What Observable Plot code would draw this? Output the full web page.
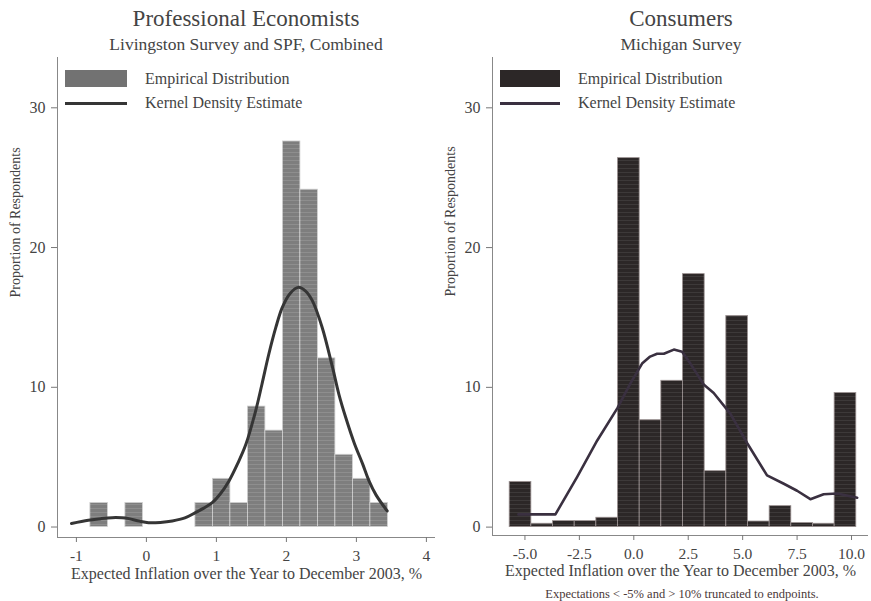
<!DOCTYPE html>
<html>
<head>
<meta charset="utf-8">
<script src="https://cdn.jsdelivr.net/npm/d3@7"></script>
<script src="https://cdn.jsdelivr.net/npm/@observablehq/plot@0.6"></script>
<style>
  html, body { margin: 0; padding: 0; background: #fff; }
  #wrap { position: relative; width: 871px; height: 601px; overflow: hidden; font-family: "Liberation Serif", "DejaVu Serif", serif; color: #444; }
  .abs { position: absolute; white-space: nowrap; line-height: 1; }
  .title { font-size: 23px; transform: translate(-50%, -50%); }
  .sub { font-size: 17.5px; transform: translate(-50%, -50%); }
  .leg { font-size: 16px; transform: translateY(-50%); }
  .foot { font-size: 12.5px; transform: translate(-50%, -50%); color: #4a3838; }
  svg { position: absolute; top: 0; }
</style>
</head>
<body>
<div id="wrap"></div>
<script>
// ---------- Data ----------
// Professional economists (Livingston + SPF): histogram bins (lower edge, upper edge) and proportion (%)
const proBinLo = [-0.8, -0.55, -0.3, -0.05, 0.2, 0.45, 0.7, 0.95, 1.2, 1.45, 1.7, 1.95, 2.2, 2.45, 2.7, 2.95, 3.2];
const proBinHi = [-0.55, -0.3, -0.05, 0.2, 0.45, 0.7, 0.95, 1.2, 1.45, 1.7, 1.95, 2.2, 2.45, 2.7, 2.95, 3.2, 3.45];
const proShare = [1.72, 0, 1.72, 0, 0, 0, 1.72, 3.45, 1.72, 8.62, 6.90, 27.59, 24.14, 12.07, 5.17, 3.45, 1.72];
// Kernel density estimate (x, y)
const proKdeX = [-1.07, -0.83, -0.65, -0.49, -0.35, -0.25, -0.1, 0.03, 0.2, 0.37, 0.55, 0.7, 0.82, 0.94, 1.06, 1.18, 1.3, 1.42, 1.56, 1.65, 1.75, 1.85, 1.94, 2.05, 2.17, 2.27, 2.37, 2.51, 2.66, 2.75, 2.85, 2.97, 3.09, 3.18, 3.28, 3.44];
const proKdeY = [0.25, 0.48, 0.6, 0.67, 0.66, 0.6, 0.42, 0.31, 0.33, 0.43, 0.65, 1.03, 1.35, 1.74, 2.4, 3.3, 4.5, 5.9, 8.3, 10.2, 12.4, 14.3, 15.7, 16.7, 17.15, 16.9, 16.2, 14.3, 11.4, 9.5, 7.8, 6.0, 4.5, 3.3, 2.3, 1.15];

// Consumers (Michigan survey)
const conBinLo = [-5.7, -4.705, -3.71, -2.715, -1.72, -0.725, 0.27, 1.265, 2.26, 3.255, 4.25, 5.245, 6.24, 7.235, 8.23, 9.225];
const conBinHi = [-4.705, -3.71, -2.715, -1.72, -0.725, 0.27, 1.265, 2.26, 3.255, 4.25, 5.245, 6.24, 7.235, 8.23, 9.225, 10.22];
const conShare = [3.23, 0.24, 0.43, 0.43, 0.67, 26.4, 7.65, 10.47, 18.1, 4.0, 15.1, 0.4, 1.5, 0.29, 0.24, 9.6];
const conKdeX = [-5.3, -3.6, -2.6, -1.68, -0.76, -0.15, 0.38, 0.75, 1.07, 1.38, 1.84, 2.22, 2.6, 3.21, 3.67, 4.44, 5.21, 6.12, 6.89, 7.5, 8.11, 8.72, 9.34, 10.26];
const conKdeY = [0.91, 0.91, 3.6, 6.2, 8.5, 10.3, 11.7, 12.2, 12.4, 12.4, 12.7, 12.55, 11.7, 10.2, 9.6, 8.1, 6.0, 3.7, 3.1, 2.6, 2.0, 2.35, 2.4, 2.1];

// Tick labels
const proTicks = [-1, 0, 1, 2, 3, 4];
const conTicks = [-5, -2.5, 0, 2.5, 5, 7.5, 10];
const yTicks = [0, 10, 20, 30];

const xLabel = "Expected Inflation over the Year to December 2003, %";
const yLabel = "Proportion of Respondents";

// ---------- Build ----------
const wrap = document.getElementById("wrap");

function panel(o) {
  const bins = o.lo.map((d, i) => ({x1: d, x2: o.hi[i], v: o.share[i]})).filter(d => d.v > 0);
  const kde = o.kx.map((d, i) => ({x: d, y: o.ky[i]}));
  const svg = Plot.plot({
    width: o.width,
    height: 601,
    marginLeft: o.ml,
    marginRight: o.mr,
    marginTop: 57,
    marginBottom: o.mb,
    style: {fontFamily: "Liberation Serif", fontSize: "15px", color: "#444", background: "transparent", overflow: "visible"},
    x: {domain: o.xdom},
    y: {domain: o.ydom},
    marks: [
      Plot.rect(bins, {x1: "x1", x2: "x2", y1: 0, y2: "v", fill: o.fill, stroke: o.edge, strokeWidth: 0.8}),
      Plot.rect(bins, {x1: "x1", x2: "x2", y1: 0, y2: "v", fill: `url(#tex${o.id})`, stroke: "none"}),
      Plot.line(kde, {x: "x", y: "y", stroke: o.lineColor, strokeWidth: o.lw, curve: o.curve}),
      Plot.ruleX([o.xdom[0]], {stroke: "#888", strokeWidth: 1}),
      Plot.ruleY([o.ydom[0]], {stroke: "#888", strokeWidth: 1}),
      Plot.axisX({ticks: o.ticks, tickFormat: o.fmt, tickSize: 5, tickPadding: 7, label: null, stroke: "#777", fontSize: 15.5}),
      Plot.axisY({ticks: yTicks, tickSize: 6, tickPadding: 6, label: null, stroke: "#777", fontSize: 16}),
      Plot.text([xLabel], {frameAnchor: "bottom", dy: o.xlabDy, text: d => d, fontSize: 16, fill: "#444"}),
      Plot.text([yLabel], {frameAnchor: "left", dx: o.ylabDx, rotate: -90, text: d => d, fontSize: 14, fill: "#444"})
    ]
  });
  // subtle scan-like texture pattern for the bars
  const defs = d3.select(svg).insert("defs", ":first-child");
  const p = defs.append("pattern").attr("id", "tex" + o.id).attr("patternUnits", "userSpaceOnUse")
    .attr("width", 9).attr("height", 4);
  p.append("line").attr("x1", 0).attr("x2", 9).attr("y1", 0.5).attr("y2", 0.5)
    .attr("stroke", "#ffffff").attr("stroke-opacity", o.texOp).attr("stroke-width", 0.7);
  wrap.appendChild(svg);
  svg.style.left = o.left + "px";
}

panel({
  id: "A", left: 0, width: 440, ml: 57, mr: 5, mb: 64, xlabDy: 41,
  xdom: [-1.27, 4.13], ydom: [-0.75, 33.6],
  lo: proBinLo, hi: proBinHi, share: proShare, kx: proKdeX, ky: proKdeY,
  ticks: proTicks, fmt: d => String(d), curve: "catmull-rom",
  fill: "#7e7e7e", edge: "#d0d0d0", lineColor: "#353535", lw: 3, ylabDx: -42, texOp: 0.18
});
panel({
  id: "B", left: 440, width: 431, ml: 52, mr: 3, mb: 66, xlabDy: 40,
  xdom: [-6.49, 10.78], ydom: [-0.6, 33.6],
  lo: conBinLo, hi: conBinHi, share: conShare, kx: conKdeX, ky: conKdeY,
  ticks: conTicks, fmt: d => d.toFixed(1), curve: "linear",
  fill: "#2c2727", edge: "#9a9090", lineColor: "#3a3040", lw: 2.6, ylabDx: -42, texOp: 0.12
});

// ---------- Titles, legends, note (HTML) ----------
function add(cls, txt, x, y, extra) {
  const d = document.createElement("div");
  d.className = "abs " + cls;
  d.textContent = txt;
  d.style.left = x + "px"; d.style.top = y + "px";
  if (extra) Object.assign(d.style, extra);
  wrap.appendChild(d);
  return d;
}
add("title", "Professional Economists", 246, 18);
add("sub", "Livingston Survey and SPF, Combined", 246, 45);
add("title", "Consumers", 681, 18);
add("sub", "Michigan Survey", 681, 45);

function legend(x0, textX, swatch, line) {
  const s = document.createElement("div");
  s.className = "abs";
  Object.assign(s.style, {left: x0 + "px", top: "70px", width: (textX - x0 - 18) + "px", height: "17px", background: swatch});
  wrap.appendChild(s);
  const l = document.createElement("div");
  l.className = "abs";
  Object.assign(l.style, {left: x0 + "px", top: "102px", width: (textX - x0 - 18) + "px", height: "3px", background: line});
  wrap.appendChild(l);
  add("leg", "Empirical Distribution", textX, 79);
  add("leg", "Kernel Density Estimate", textX, 103);
}
legend(65, 145, "#727272", "#353535");
legend(500, 578, "#2c2727", "#3a3040");

add("foot", "Expectations < -5% and > 10% truncated to endpoints.", 682, 594);
</script>
</body>
</html>
